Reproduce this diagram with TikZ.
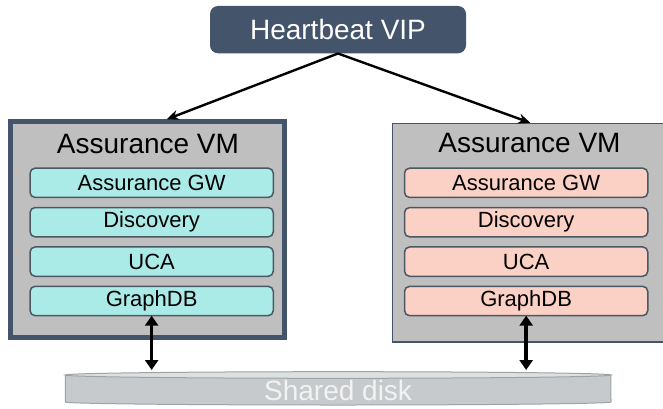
\documentclass[tikz,border=0pt]{standalone}
\usepackage{fontspec}
\setmainfont{Liberation Sans}
\usetikzlibrary{arrows.meta}
\definecolor{hbfill}{HTML}{44546A}
\definecolor{vmfill}{HTML}{BFBFBF}
\definecolor{vmedge}{HTML}{44546A}
\definecolor{svcedge}{HTML}{4A5864}
\definecolor{cyanfill}{HTML}{AAEBE8}
\definecolor{pinkfill}{HTML}{FBD1C5}
\definecolor{diskbody}{HTML}{C6CACC}
\definecolor{disktop}{HTML}{DDE0E1}
\definecolor{diskedge}{HTML}{9EA3A6}
\begin{document}
\begin{tikzpicture}[x=1pt, y=1pt, >={Stealth[length=12pt,width=10pt]}, node distance=39.4pt,
  vm/.style={draw=vmedge, fill=vmfill, inner sep=0pt},
  title/.style={anchor=base, font=\fontsize{28}{30}\selectfont},
  svc/.style={draw=svcedge, line width=1.5pt, rounded corners=5pt, minimum width=243.2pt,
    minimum height=29.3pt, inner sep=0pt, outer sep=0pt, font=\fontsize{22}{24}\selectfont},
  dbl/.style={line width=3.5pt, {Triangle[width=13pt,length=10pt]}-{Triangle[width=13pt,length=10pt]}}]
\useasboundingbox (0,0) rectangle (663,408);
\clip (0,0) rectangle (663,408);

% heartbeat
\node[name=hb, fill=hbfill, rounded corners=8pt, minimum width=256pt, minimum height=47.3pt,
  text=white, font=\fontsize{28}{30}\selectfont] at (338,378.35) {Heartbeat VIP};

% left VM
\node[name=vmA, vm, line width=5pt, minimum width=273.7pt, minimum height=215.7pt] at (147.65,178.35) {};
\node[name=vmA_title, title] at (148,254.7) {Assurance VM};
\node[name=vmA_gw, svc, fill=cyanfill] at (151.65,225.2) {Assurance GW};
\node[name=vmA_disc, svc, fill=cyanfill, below of=vmA_gw] {Discovery};
\node[name=vmA_uca, svc, fill=cyanfill, below of=vmA_disc] {UCA};
\node[name=vmA_gdb, svc, fill=cyanfill, below of=vmA_uca] {GraphDB};

% right VM
\node[name=vmB, vm, line width=1.5pt, minimum width=275.5pt, minimum height=218.5pt] at (530.25,175.25) {};
\node[name=vmB_title, title] at (529.5,255.3) {Assurance VM};
\node[name=vmB_gw, svc, fill=pinkfill] at (526.15,225.2) {Assurance GW};
\node[name=vmB_disc, svc, fill=pinkfill, below of=vmB_gw] {Discovery};
\node[name=vmB_uca, svc, fill=pinkfill, below of=vmB_disc] {UCA};
\node[name=vmB_gdb, svc, fill=pinkfill, below of=vmB_uca] {GraphDB};

% shared disk
\filldraw[fill=diskbody, draw=diskedge, line width=1pt] (65.3,33) -- (65.3,6)
  arc[start angle=180, end angle=360, x radius=272.85, y radius=3] -- (610.9,33) -- cycle;
\filldraw[fill=disktop, draw=diskedge, line width=1pt] (338.1,33) ellipse [x radius=272.85, y radius=3.3];
\node[name=disk, text=white!95!black, font=\fontsize{28}{30}\selectfont] at (338.1,18) {Shared disk};

\coordinate (vmA_in) at (166.7,288.7);
\coordinate (diskA) at (151.65,38);
\coordinate (diskB) at (526.15,38);

\draw[line width=2.4pt] (hb.south) edge[->] (vmA_in);
\draw[line width=2.4pt] (hb.south) edge[->] (vmB.north);
\draw[dbl] (vmA_gdb.south) -- (diskA);
\draw[dbl] (vmB_gdb.south) -- (diskB);

\end{tikzpicture}
\end{document}
